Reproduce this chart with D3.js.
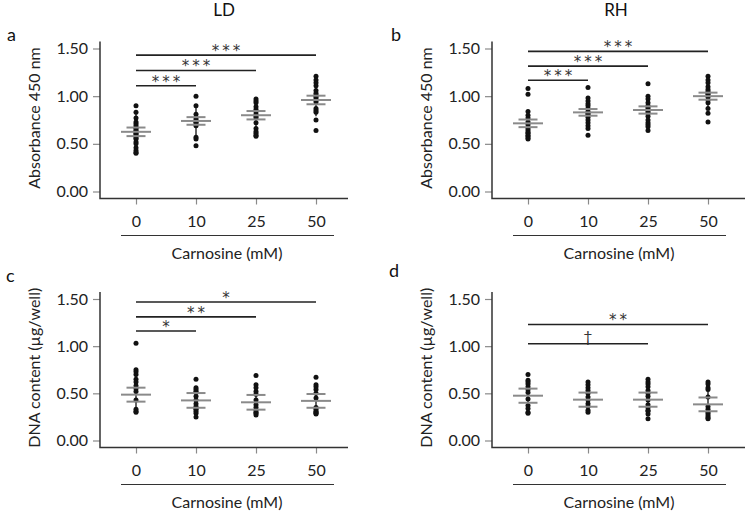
<!DOCTYPE html>
<html>
<head>
<meta charset="utf-8">
<script src="https://cdn.jsdelivr.net/npm/d3@7/dist/d3.min.js"></script>
<style>
  html, body { margin: 0; padding: 0; background: #fff; }
  svg { display: block; font-family: Lato, "Noto Sans", sans-serif; }
</style>
</head>
<body>
<svg id="chart" width="751" height="512"></svg>
<script>
// ---------- data ----------
const categories = ["0", "10", "25", "50"];
const yTicks = [0, 0.5, 1.0, 1.5];
const columnTitles = ["LD", "RH"];
const panelLetters = ["a", "b", "c", "d"];
const yTitles = ["Absorbance 450 nm", "Absorbance 450 nm", "DNA content (µg/well)", "DNA content (µg/well)"];
const xTitle = "Carnosine (mM)";

// individual points per group (panel a..d, group 0,10,25,50)
const pointsA = [
  [0.90,0.83,0.77,0.73,0.71,0.69,0.67,0.66,0.64,0.63,0.61,0.60,0.58,0.56,0.55,0.52,0.50,0.46,0.43,0.41,0.40],
  [1.00,0.90,0.81,0.77,0.75,0.73,0.72,0.70,0.69,0.57,0.55,0.48],
  [0.97,0.95,0.93,0.89,0.86,0.84,0.81,0.79,0.77,0.72,0.66,0.63,0.61,0.59,0.58],
  [1.21,1.17,1.14,1.11,1.06,1.03,1.01,1.00,0.98,0.96,0.94,0.87,0.85,0.83,0.75,0.64]
];
const pointsB = [
  [1.08,1.02,0.84,0.80,0.77,0.73,0.70,0.66,0.64,0.62,0.61,0.59,0.58,0.56,0.55],
  [1.09,0.98,0.95,0.92,0.90,0.87,0.84,0.82,0.81,0.78,0.75,0.72,0.69,0.66,0.59],
  [1.13,1.00,0.97,0.93,0.90,0.88,0.86,0.84,0.82,0.79,0.75,0.72,0.70,0.68,0.64],
  [1.21,1.17,1.14,1.10,1.07,1.05,1.03,1.02,0.99,0.96,0.93,0.87,0.82,0.73]
];
const pointsC = [
  [1.03,0.75,0.73,0.70,0.65,0.62,0.58,0.55,0.52,0.43,0.33,0.31,0.30],
  [0.65,0.56,0.54,0.52,0.51,0.47,0.43,0.39,0.36,0.34,0.33,0.31,0.29,0.25],
  [0.69,0.59,0.56,0.52,0.49,0.43,0.38,0.35,0.32,0.30,0.29,0.27],
  [0.67,0.59,0.57,0.54,0.50,0.45,0.35,0.33,0.31,0.30,0.29,0.28]
];
const pointsD = [
  [0.70,0.64,0.62,0.60,0.57,0.54,0.51,0.44,0.37,0.34,0.30,0.29],
  [0.62,0.59,0.56,0.53,0.50,0.46,0.43,0.39,0.36,0.32,0.30],
  [0.65,0.62,0.60,0.57,0.53,0.50,0.47,0.43,0.38,0.35,0.32,0.31,0.28,0.23],
  [0.62,0.60,0.56,0.54,0.46,0.36,0.33,0.30,0.28,0.26,0.24,0.23]
];

// group means, SEM (grey bars) and SD (thin black line)
const meanA = [0.626, 0.74, 0.80, 0.96];
const semA  = [0.045, 0.040, 0.044, 0.045];
const sdA   = [0.19, 0.17, 0.14, 0.17];
const meanB = [0.715, 0.83, 0.855, 1.00];
const semB  = [0.040, 0.035, 0.038, 0.037];
const sdB   = [0.14, 0.12, 0.12, 0.13];
const meanC = [0.486, 0.425, 0.405, 0.42];
const semC  = [0.074, 0.078, 0.078, 0.073];
const sdC   = [0.20, 0.12, 0.12, 0.13];
const meanD = [0.475, 0.433, 0.433, 0.383];
const semD  = [0.075, 0.075, 0.075, 0.073];
const sdD   = [0.13, 0.12, 0.14, 0.14];

// significance brackets
const sigA = [ {to: "10", y: 1.11, label: "***"}, {to: "25", y: 1.27, label: "***"}, {to: "50", y: 1.43, label: "***"} ];
const sigB = [ {to: "10", y: 1.167, label: "***"}, {to: "25", y: 1.315, label: "***"}, {to: "50", y: 1.47, label: "***"} ];
const sigC = [ {to: "10", y: 1.16, label: "*"}, {to: "25", y: 1.31, label: "**"}, {to: "50", y: 1.468, label: "*"} ];
const sigD = [ {to: "25", y: 1.025, label: "†"}, {to: "50", y: 1.23, label: "**"} ];

const panels = [
  {points: pointsA, mean: meanA, sem: semA, sd: sdA, sig: sigA},
  {points: pointsB, mean: meanB, sem: semB, sd: sdB, sig: sigB},
  {points: pointsC, mean: meanC, sem: semC, sd: sdC, sig: sigC},
  {points: pointsD, mean: meanD, sem: semD, sd: sdD, sig: sigD}
];

// ---------- layout ----------
const svg = d3.select("#chart");
const colLeft = [100, 492];
const colRight = [348, 745];
const rowTop = [48.5, 299];      // y of 1.50
const rowZero = [191.5, 440.5];  // y of 0.00
const letterPos = [[7, 41], [391, 41], [6, 282], [389, 277]];
const GREY = "#8a8a8a";
const DARK = "#222";
const FS = 16;

columnTitles.forEach((t, i) => {
  svg.append("text")
    .attr("x", colLeft[i] + 124).attr("y", 16)
    .attr("text-anchor", "middle")
    .attr("font-size", 17).attr("fill", "#111")
    .text(t);
});

panels.forEach((p, idx) => {
  const col = idx % 2, row = Math.floor(idx / 2);
  const left = colLeft[col], right = colRight[col];
  const y = d3.scaleLinear().domain([0, 1.5]).range([rowZero[row], rowTop[row]]);
  const x = d3.scalePoint().domain(categories).range([left + 36, left + 216]);
  const axisY = rowZero[row] + 7;
  const g = svg.append("g");

  // panel letter
  svg.append("text").attr("x", letterPos[idx][0]).attr("y", letterPos[idx][1])
    .attr("font-size", 18).attr("fill", "#111").text(panelLetters[idx]);

  // y axis (ticks + labels)
  const yAxis = d3.axisLeft(y).tickValues(yTicks).tickFormat(d3.format(".2f")).tickSize(7).tickPadding(5);
  const ya = g.append("g").attr("transform", `translate(${left},0)`).call(yAxis);
  ya.select(".domain").remove();
  ya.selectAll(".tick line").attr("stroke", GREY).attr("stroke-width", 1.2);
  ya.selectAll(".tick text").attr("font-size", FS).attr("fill", "#222").attr("font-family", "Lato, sans-serif");

  // x axis ticks + labels
  const xAxis = d3.axisBottom(x).tickSize(6).tickPadding(11);
  const xa = g.append("g").attr("transform", `translate(0,${axisY})`).call(xAxis);
  xa.select(".domain").remove();
  xa.selectAll(".tick line").attr("stroke", GREY).attr("stroke-width", 1.2);
  xa.selectAll(".tick text").attr("font-size", FS).attr("fill", "#222").attr("font-family", "Lato, sans-serif");

  // L-shaped axis lines
  g.append("path")
    .attr("d", `M${left},${rowTop[row] - 7}V${axisY}H${right}`)
    .attr("fill", "none").attr("stroke", "#333").attr("stroke-width", 1.5);

  // underline + x title
  g.append("line").attr("x1", left + 21).attr("x2", left + 234)
    .attr("y1", rowZero[row] + 44).attr("y2", rowZero[row] + 44)
    .attr("stroke", "#333").attr("stroke-width", 1.2);
  g.append("text").attr("x", left + 127).attr("y", rowZero[row] + 67)
    .attr("text-anchor", "middle").attr("font-size", FS).attr("fill", "#222").text(xTitle);

  // y title
  const cy = (rowTop[row] + rowZero[row]) / 2 - 2;
  g.append("text").attr("transform", `translate(${left - 60},${cy}) rotate(-90)`)
    .attr("text-anchor", "middle").attr("font-size", FS).attr("fill", "#222").text(yTitles[idx]);

  // groups
  categories.forEach((c, k) => {
    const cx = x(c);
    // SD line
    g.append("line").attr("x1", cx).attr("x2", cx)
      .attr("y1", y(p.mean[k] - p.sd[k])).attr("y2", y(p.mean[k] + p.sd[k]))
      .attr("stroke", "#111").attr("stroke-width", 1.3);
    // points
    g.selectAll(null).data(p.points[k]).enter().append("circle")
      .attr("cx", cx).attr("cy", d => y(d)).attr("r", 2.5).attr("fill", "#111");
    // mean and SEM (grey)
    g.append("line").attr("x1", cx - 15).attr("x2", cx + 15)
      .attr("y1", y(p.mean[k])).attr("y2", y(p.mean[k]))
      .attr("stroke", GREY).attr("stroke-width", 2);
    [p.mean[k] - p.sem[k], p.mean[k] + p.sem[k]].forEach(v => {
      g.append("line").attr("x1", cx - 9.5).attr("x2", cx + 9.5)
        .attr("y1", y(v)).attr("y2", y(v))
        .attr("stroke", GREY).attr("stroke-width", 2);
    });
  });

  // significance bars
  p.sig.forEach(s => {
    const x1 = x("0"), x2 = x(s.to);
    const isDagger = s.label === "†";
    g.append("line").attr("x1", x1).attr("x2", x2).attr("y1", y(s.y)).attr("y2", y(s.y))
      .attr("stroke", DARK).attr("stroke-width", 1.6);
    g.append("text").attr("x", (x1 + x2) / 2 + (isDagger ? 0 : 1.5)).attr("y", y(s.y) + (isDagger ? -2 : 1))
      .attr("text-anchor", "middle")
      .attr("font-family", isDagger ? "Lato, sans-serif" : "'DejaVu Sans', sans-serif")
      .attr("font-size", isDagger ? 16 : 15)
      .attr("letter-spacing", isDagger ? 0 : 3)
      .attr("fill", "#333").text(s.label);
  });
});
</script>
</body>
</html>
